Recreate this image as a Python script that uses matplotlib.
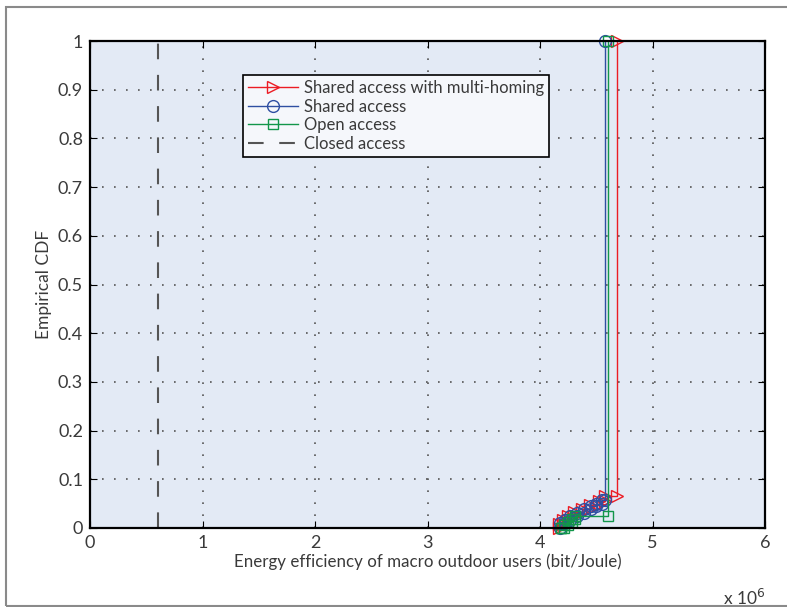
import numpy as np
import matplotlib
matplotlib.use("Agg")
import matplotlib.pyplot as plt
from matplotlib.patches import Rectangle

plt.rcParams['font.family'] = ['Lato', 'DejaVu Sans']

# empirical CDF step points (x in units of 1e6 bit/Joule, level reached after each x)
multi_x = [4.17, 4.20, 4.25, 4.30, 4.37, 4.44, 4.52, 4.58, 4.68]
multi_y = [0.008, 0.016, 0.024, 0.032, 0.040, 0.048, 0.056, 0.065, 1.0]
shared_x = [4.18, 4.22, 4.27, 4.33, 4.39, 4.45, 4.50, 4.55, 4.58]
shared_y = [0.010, 0.017, 0.024, 0.031, 0.038, 0.045, 0.050, 0.057, 1.0]
open_x = [4.19, 4.21, 4.25, 4.28, 4.31, 4.60]
open_y = [0.0, 0.006, 0.012, 0.018, 0.025, 1.0]
closed_x = [0.6]
closed_y = [1.0]

labels = ["Shared access with multi-homing", "Shared access", "Open access", "Closed access"]
xticks = [0, 1, 2, 3, 4, 5, 6]
yticks = [0, 0.1, 0.2, 0.3, 0.4, 0.5, 0.6, 0.7, 0.8, 0.9, 1]
ytick_labels = ["0", "0.1", "0.2", "0.3", "0.4", "0.5", "0.6", "0.7", "0.8", "0.9", "1"]


def stairs(xv, yv):
    # staircase like matlab cdfplot: up at each x, across to the next x
    xs, ys = [], []
    prev = 0.0
    for x, y in zip(xv, yv):
        xs += [x, x]
        ys += [prev, y]
        prev = y
    return np.array(xs), np.array(ys)


fig = plt.figure(figsize=(7.87, 6.07), dpi=100)
ax = fig.add_axes([90 / 787, 1 - 528 / 607, 675 / 787, 487 / 607])
ax.set_facecolor("#e3eaf5")

txt = "#3a3a3a"
red, blue, green = "#ec1c24", "#2f4fa2", "#12964a"

xs, ys = stairs(multi_x, multi_y)
ax.plot(xs, ys, color=red, lw=1.0, marker=">", ms=9, mfc="none", mec=red, mew=1.0,
        label=labels[0], clip_on=False, zorder=4)
xs, ys = stairs(shared_x, shared_y)
ax.plot(xs, ys, color=blue, lw=1.0, marker="o", ms=8.5, mfc="none", mec=blue, mew=1.0,
        label=labels[1], clip_on=False, zorder=4)
xs, ys = stairs(open_x, open_y)
ax.plot(xs, ys, color=green, lw=1.0, marker="s", ms=7.5, mfc="none", mec=green, mew=1.0,
        label=labels[2], clip_on=False, zorder=4)
xs, ys = stairs(closed_x, closed_y)
ax.plot(xs, ys, color="#555555", lw=1.5, dashes=(7.5, 7.5), label=labels[3])

ax.set_xlim(0, 6)
ax.set_ylim(0, 1)
ax.set_xticks(xticks)
ax.set_xticklabels([str(t) for t in xticks])
ax.set_yticks(yticks)
ax.set_yticklabels(ytick_labels)
ax.tick_params(direction="in", length=5, width=0.8, top=True, right=True,
               labelsize=13, colors="black", labelcolor=txt, pad=5)
ax.grid(True, color="#555555", linestyle=(0, (1, 6.2)), linewidth=1.2)
for s in ax.spines.values():
    s.set_linewidth(1.6)
    s.set_color("black")
    s.set_zorder(5)

ax.set_xlabel("Energy efficiency of macro outdoor users (bit/Joule)", fontsize=12.2, color=txt, labelpad=2)
ax.set_ylabel("Empirical CDF", fontsize=12.5, color=txt, labelpad=4)
ax.text(1.0, -0.122, r"x 10$^{6}$", transform=ax.transAxes, ha="right", va="top", fontsize=12.5, color=txt)

leg = ax.legend(loc="upper left", bbox_to_anchor=(0.227, 0.93), borderaxespad=0, fancybox=False,
                framealpha=1, facecolor="#f5f7fb", edgecolor="black", fontsize=12,
                handlelength=3.0, handletextpad=0.35, labelspacing=0.15, borderpad=0.3)
leg.get_frame().set_linewidth(1.2)
for t in leg.get_texts():
    t.set_color(txt)

# outer grey frame
fig.patches.append(Rectangle((6 / 787, 1 / 607), 1.0, 599 / 607, transform=fig.transFigure,
                             fill=False, edgecolor="#8a8a8a", linewidth=1.5, clip_on=False))

fig.savefig("out.png", dpi=100)
